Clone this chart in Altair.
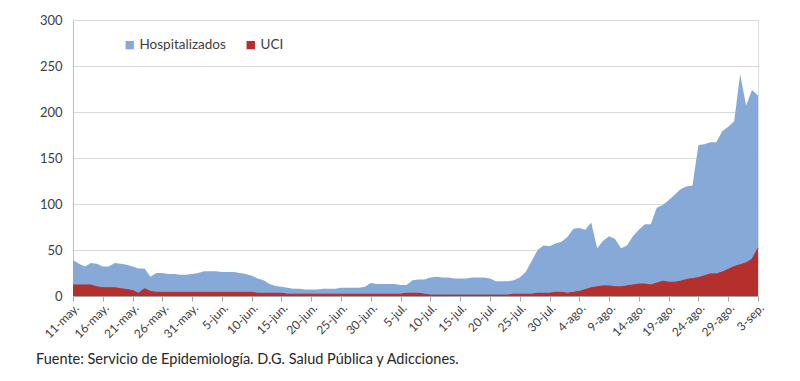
import json
import altair as alt
import pandas as pd

# ---- data ----
start_date = "2020-05-11"
hospitalizados = [
    39, 35, 32, 36, 35, 32, 32, 36, 35, 34,
    32, 30, 30, 21, 25, 25, 24, 24, 23, 23,
    24, 25, 27, 27, 27, 26, 26, 26, 25, 24,
    22, 19, 17, 13, 11, 10, 9, 8, 8, 7,
    7, 7, 8, 8, 8, 9, 9, 9, 9, 10,
    14, 13, 13, 13, 13, 12, 12, 17, 18, 18,
    20, 21, 20, 20, 19, 19, 19, 20, 20, 20,
    19, 16, 16, 16, 17, 20, 26, 38, 50, 55,
    54, 57, 59, 64, 73, 74, 72, 80, 52, 60,
    65, 62, 52, 55, 65, 72, 78, 78, 96, 99,
    104, 110, 116, 119, 120, 164, 165, 167, 167, 179,
    184, 190, 241, 207, 224, 218,
]
uci = [
    12, 12, 12, 12, 10, 9, 9, 9, 8, 7,
    6, 3, 8, 5, 4, 4, 4, 4, 4, 4,
    4, 4, 4, 4, 4, 4, 4, 4, 4, 4,
    4, 3, 3, 3, 3, 3, 2, 2, 2, 2,
    2, 2, 2, 2, 2, 2, 2, 2, 2, 2,
    2, 2, 2, 2, 2, 2, 3, 3, 3, 2,
    1, 1, 1, 1, 1, 1, 1, 1, 1, 1,
    1, 1, 1, 1, 2, 2, 2, 2, 3, 3,
    3, 4, 4, 3, 4, 5, 7, 9, 10, 11,
    11, 10, 10, 11, 12, 13, 13, 12, 14, 16,
    15, 15, 16, 18, 19, 20, 22, 24, 24, 26,
    29, 32, 34, 36, 40, 52,
]
tick_labels = [
    "11-may.", "16-may.", "21-may.", "26-may.", "31-may.", "5-jun.",
    "10-jun.", "15-jun.", "20-jun.", "25-jun.", "30-jun.", "5-jul.",
    "10-jul.", "15-jul.", "20-jul.", "25-jul.", "30-jul.", "4-ago.",
    "9-ago.", "14-ago.", "19-ago.", "24-ago.", "29-ago.", "3-sep.",
]
series = ["Hospitalizados", "UCI"]
caption = "Fuente: Servicio de Epidemiología. D.G. Salud Pública y Adicciones."

BLUE = "#87A9D7"
RED = "#B5302D"
FONT = "Lato"

n = len(hospitalizados)
fechas = pd.date_range(start_date, periods=n, freq="D")
df = pd.DataFrame({
    "dia": list(range(n)),
    "fecha": fechas.strftime("%Y-%m-%d"),
    "Hospitalizados": hospitalizados,
    "UCI": uci,
})

label_expr = json.dumps(tick_labels) + "[round(datum.value / 5)]"

x_enc = alt.X(
    "dia:Q",
    scale=alt.Scale(domain=[0, n - 1], nice=False, zero=False),
    axis=alt.Axis(
        title=None,
        values=list(range(0, n, 5)),
        labelExpr=label_expr,
        labelAngle=-45,
        labelFontSize=12,
        labelFont=FONT,
        labelColor="#404040",
        labelPadding=1,
        labelOverlap=False,
        labelFlush=False,
        ticks=True,
        tickSize=5,
        tickColor="#A6A6A6",
        domainColor="#A6A6A6",
        grid=False,
    ),
)
y_scale = alt.Scale(domain=[0, 300], nice=False)
y_axis = alt.Axis(
    title=None,
    values=[0, 50, 100, 150, 200, 250, 300],
    labelFontSize=13,
    labelFont=FONT,
    labelColor="#404040",
    labelPadding=11,
    ticks=False,
    domainColor="#BFBFBF",
    gridColor="#D9D9D9",
)
color_enc = alt.Color(
    "serie:N",
    scale=alt.Scale(domain=series, range=[BLUE, RED]),
    legend=alt.Legend(
        title=None,
        orient="none",
        legendX=50,
        legendY=18,
        direction="horizontal",
        symbolType="square",
        symbolSize=70,
        symbolStrokeWidth=0,
        labelFontSize=13.5,
        labelFont=FONT,
        labelColor="#404040",
        columnPadding=18,
        labelOffset=3,
    ),
)

base = alt.Chart(df)

hosp_layer = base.transform_fold(["Hospitalizados"], as_=["serie", "valor"]).mark_area(
    opacity=1
).encode(
    x=x_enc,
    y=alt.Y("valor:Q", scale=y_scale, axis=y_axis, stack=None),
    color=color_enc,
)

uci_layer = base.transform_fold(["UCI"], as_=["serie", "valor"]).mark_area(
    opacity=1,
    line={"color": "#7A1A18", "strokeWidth": 1},
).encode(
    x=x_enc,
    y=alt.Y("valor:Q", scale=y_scale, axis=y_axis, stack=None),
    color=color_enc,
)

chart = alt.layer(hosp_layer, uci_layer).properties(
    width=685,
    height=276,
    autosize=alt.AutoSizeParams(type="none"),
    padding={"left": 65, "top": 12, "right": 34, "bottom": 77},
    title=alt.TitleParams(
        text=caption,
        orient="bottom",
        anchor="start",
        frame="group",
        dx=-37,
        offset=13,
        fontSize=14.5,
        font=FONT,
        fontWeight="normal",
        color="#262626",
    ),
).configure_view(stroke=None).configure(background="white")

chart.save("out.html", embed_options={"renderer": "svg", "actions": False})
